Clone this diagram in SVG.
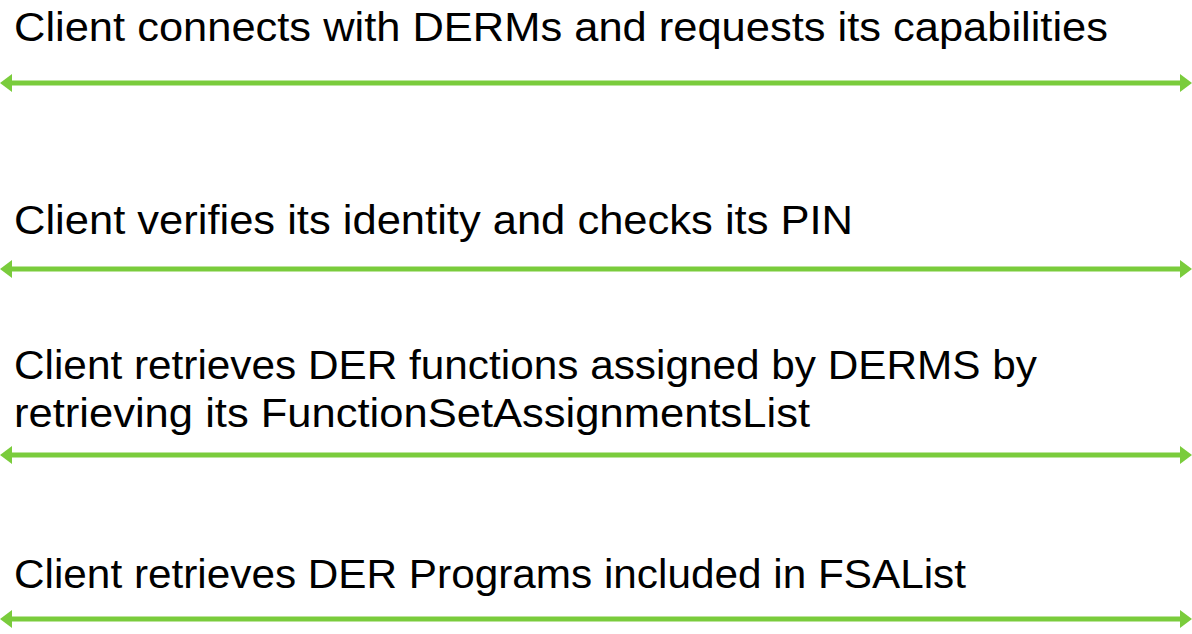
<svg xmlns="http://www.w3.org/2000/svg" width="1192" height="634" viewBox="0 0 1192 634">
  <style>
    .step { font-family: "Liberation Sans", "Open Sans", sans-serif; font-size: 41px; fill: #000000; }
    .flow { stroke: #7ACC3C; stroke-width: 5; fill: none; marker-start: url(#tip); marker-end: url(#tip); }
  </style>
  <defs>
    <marker id="tip" markerUnits="userSpaceOnUse" markerWidth="12" markerHeight="18" viewBox="0 0 12 18" refX="2" refY="9" orient="auto-start-reverse">
      <path d="M0,0 L12,9 L0,18 Z" fill="#7ACC3C"/>
    </marker>
  </defs>

  <rect width="1192" height="634" fill="#ffffff"/>

  <!-- step labels -->
  <g id="step1">
    <text class="step" x="14" y="41" textLength="1094" lengthAdjust="spacingAndGlyphs">Client connects with DERMs and requests its capabilities</text>
  </g>
  <g id="step2">
    <text class="step" x="14" y="234" textLength="839" lengthAdjust="spacingAndGlyphs">Client verifies its identity and checks its PIN</text>
  </g>
  <g id="step3">
    <text class="step"><tspan x="14" y="379" textLength="1023" lengthAdjust="spacingAndGlyphs">Client retrieves DER functions assigned by DERMS by</tspan><tspan x="14" y="427" textLength="796" lengthAdjust="spacingAndGlyphs">retrieving its FunctionSetAssignmentsList</tspan></text>
  </g>
  <g id="step4">
    <text class="step" x="14" y="588" textLength="952" lengthAdjust="spacingAndGlyphs">Client retrieves DER Programs included in FSAList</text>
  </g>

  <!-- two-way exchange arrows -->
  <g id="connectors">
    <line class="flow" x1="10" y1="83" x2="1182" y2="83"/>
    <line class="flow" x1="10" y1="269" x2="1182" y2="269"/>
    <line class="flow" x1="10" y1="455" x2="1182" y2="455"/>
    <line class="flow" x1="10" y1="619" x2="1182" y2="619"/>
  </g>
</svg>
